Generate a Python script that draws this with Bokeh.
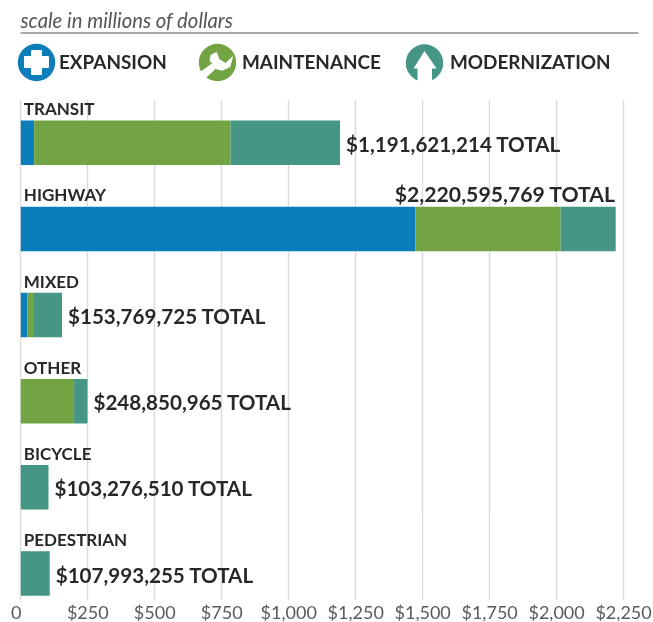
from bokeh.plotting import figure
from bokeh.layouts import column
from bokeh.embed import file_html
from bokeh.resources import INLINE
from bokeh.models import Range1d, FixedTicker
from bokeh.core.properties import value

categories = ["TRANSIT", "HIGHWAY", "MIXED", "OTHER", "BICYCLE", "PEDESTRIAN"]
expansion = [50, 1473, 25, 0, 0, 0]
maintenance = [733, 542, 21, 199, 0, 0]
modernization = [408.6, 205.6, 107.8, 49.9, 103.3, 108.0]
totals = [1191621214, 2220595769, 153769725, 248850965, 103276510, 107993255]
tick_values = [0, 250, 500, 750, 1000, 1250, 1500, 1750, 2000, 2250]
tick_labels = ["0", "$250", "$500", "$750", "$1,000", "$1,250", "$1,500", "$1,750", "$2,000", "$2,250"]
legend_labels = ["EXPANSION", "MAINTENANCE", "MODERNIZATION"]
subtitle = "scale in millions of dollars"

BLUE, GREEN, TEAL = "#0b7db8", "#73a443", "#459685"
INK = "#26282b"
FONT = "Lato"
W, H_TOP, FRAME_H = 653, 99, 501
ROW = 86.15

# ---- header ----
top = figure(width=W, height=H_TOP, x_range=Range1d(0, W), y_range=Range1d(H_TOP, 0),
             output_backend="svg", toolbar_location=None, min_border=0)
top.axis.visible = False
top.grid.visible = False
top.outline_line_color = None
top.text([20], [19.5], text=[subtitle], text_font=value(FONT), text_font_style="italic",
         text_font_size="20.3px", text_color="#555555", text_baseline="middle")
top.segment([20], [32.5], [638], [32.5], line_color="#555555", line_width=1.2)

cx = [36, 217, 424]
top.circle(cx, [62, 62, 62.5], radius=18.7, fill_color=[BLUE, GREEN, TEAL], line_color=None)
top.text([58.5, 241.5, 449.5], [61, 61, 61], text=legend_labels, text_font=value(FONT), text_font_style="bold",
         text_font_size="18.9px", text_color=INK, text_baseline="middle")
# plus
top.patch([31, 41, 41, 48, 48, 41, 41, 31, 31, 24, 24, 31],
          [50, 50, 56, 56, 67, 67, 74, 74, 67, 67, 56, 56], fill_color="white", line_color="white",
          line_width=1, line_join="round")
# wrench
top.patch([200.7, 205, 215, 221.7, 229.3, 232, 225, 218.3, 216, 210.7, 209.5, 212],
          [71.3, 77.3, 68, 69.7, 66.3, 56.3, 63, 58.7, 52, 54.5, 60, 63],
          fill_color="white", line_color="white", line_width=1, line_join="round")
# arrow
top.patch([424, 436, 431.5, 431.5, 417, 417, 413], [50.5, 68, 68, 82, 82, 68, 68],
          fill_color="white", line_color=None)

# ---- chart ----
rows = list(range(len(categories)))
left = [0.0] * 6
mid = [e + m for e, m in zip(expansion, maintenance)]
end = [a + b for a, b in zip(mid, modernization)]
p = figure(frame_width=W, frame_height=FRAME_H,
           x_range=Range1d(-20.3 / 0.2679, (W - 20.3) / 0.2679),
           y_range=Range1d((600 - 142.25) / ROW, (99 - 142.25) / ROW),
           output_backend="svg", toolbar_location=None,
           min_border_left=0, min_border_right=0, min_border_top=0, min_border_bottom=22)
p.outline_line_color = None
p.yaxis.visible = False
p.ygrid.visible = False
p.xgrid.ticker = FixedTicker(ticks=tick_values)
p.xgrid.grid_line_color = "#dcdcdc"
p.xgrid.grid_line_width = 1.5
p.xaxis.ticker = FixedTicker(ticks=tick_values)
overrides = dict(zip(tick_values, tick_labels))
overrides[0] = tick_labels[0] + "\u00a0\u00a0"  # the zero label sits left of its gridline
p.xaxis.major_label_overrides = overrides
p.xaxis.axis_line_color = None
p.xaxis.major_tick_line_color = None
p.xaxis.major_tick_out = 0
p.xaxis.major_tick_in = 0
p.xaxis.major_label_standoff = 0
p.xaxis.major_label_text_font = FONT
p.xaxis.major_label_text_font_size = "18px"
p.xaxis.major_label_text_color = "#5a5a5a"

bh = 44.5 / ROW
p.hbar(y=rows, left=left, right=expansion, height=bh, fill_color=BLUE, line_color=None)
p.hbar(y=rows, left=expansion, right=mid, height=bh, fill_color=GREEN, line_color=None)
p.hbar(y=rows, left=mid, right=end, height=bh, fill_color=TEAL, line_color=None)

p.text([0] * 6, rows, text=categories, x_offset=3, y_offset=-34, text_font=value(FONT),
       text_font_style="bold", text_font_size="17px", text_color=INK, text_baseline="middle")

labels = ["${:,} TOTAL".format(t) for t in totals]
in_row = [i for i in rows if i != 1]
p.text([end[i] for i in in_row], in_row, text=[labels[i] for i in in_row], x_offset=6, y_offset=1,
       text_font=value(FONT), text_font_style="bold", text_font_size="20.6px", text_color=INK,
       text_baseline="middle")
p.text([end[1]], [1], text=[labels[1]], y_offset=-35, text_align="right",
       text_font=value(FONT), text_font_style="bold", text_font_size="21.2px", text_color=INK,
       text_baseline="middle")

page = column(top, p, spacing=0, styles={"position": "fixed", "left": "0", "top": "0"})
open("out.html", "w").write(file_html(page, INLINE))
